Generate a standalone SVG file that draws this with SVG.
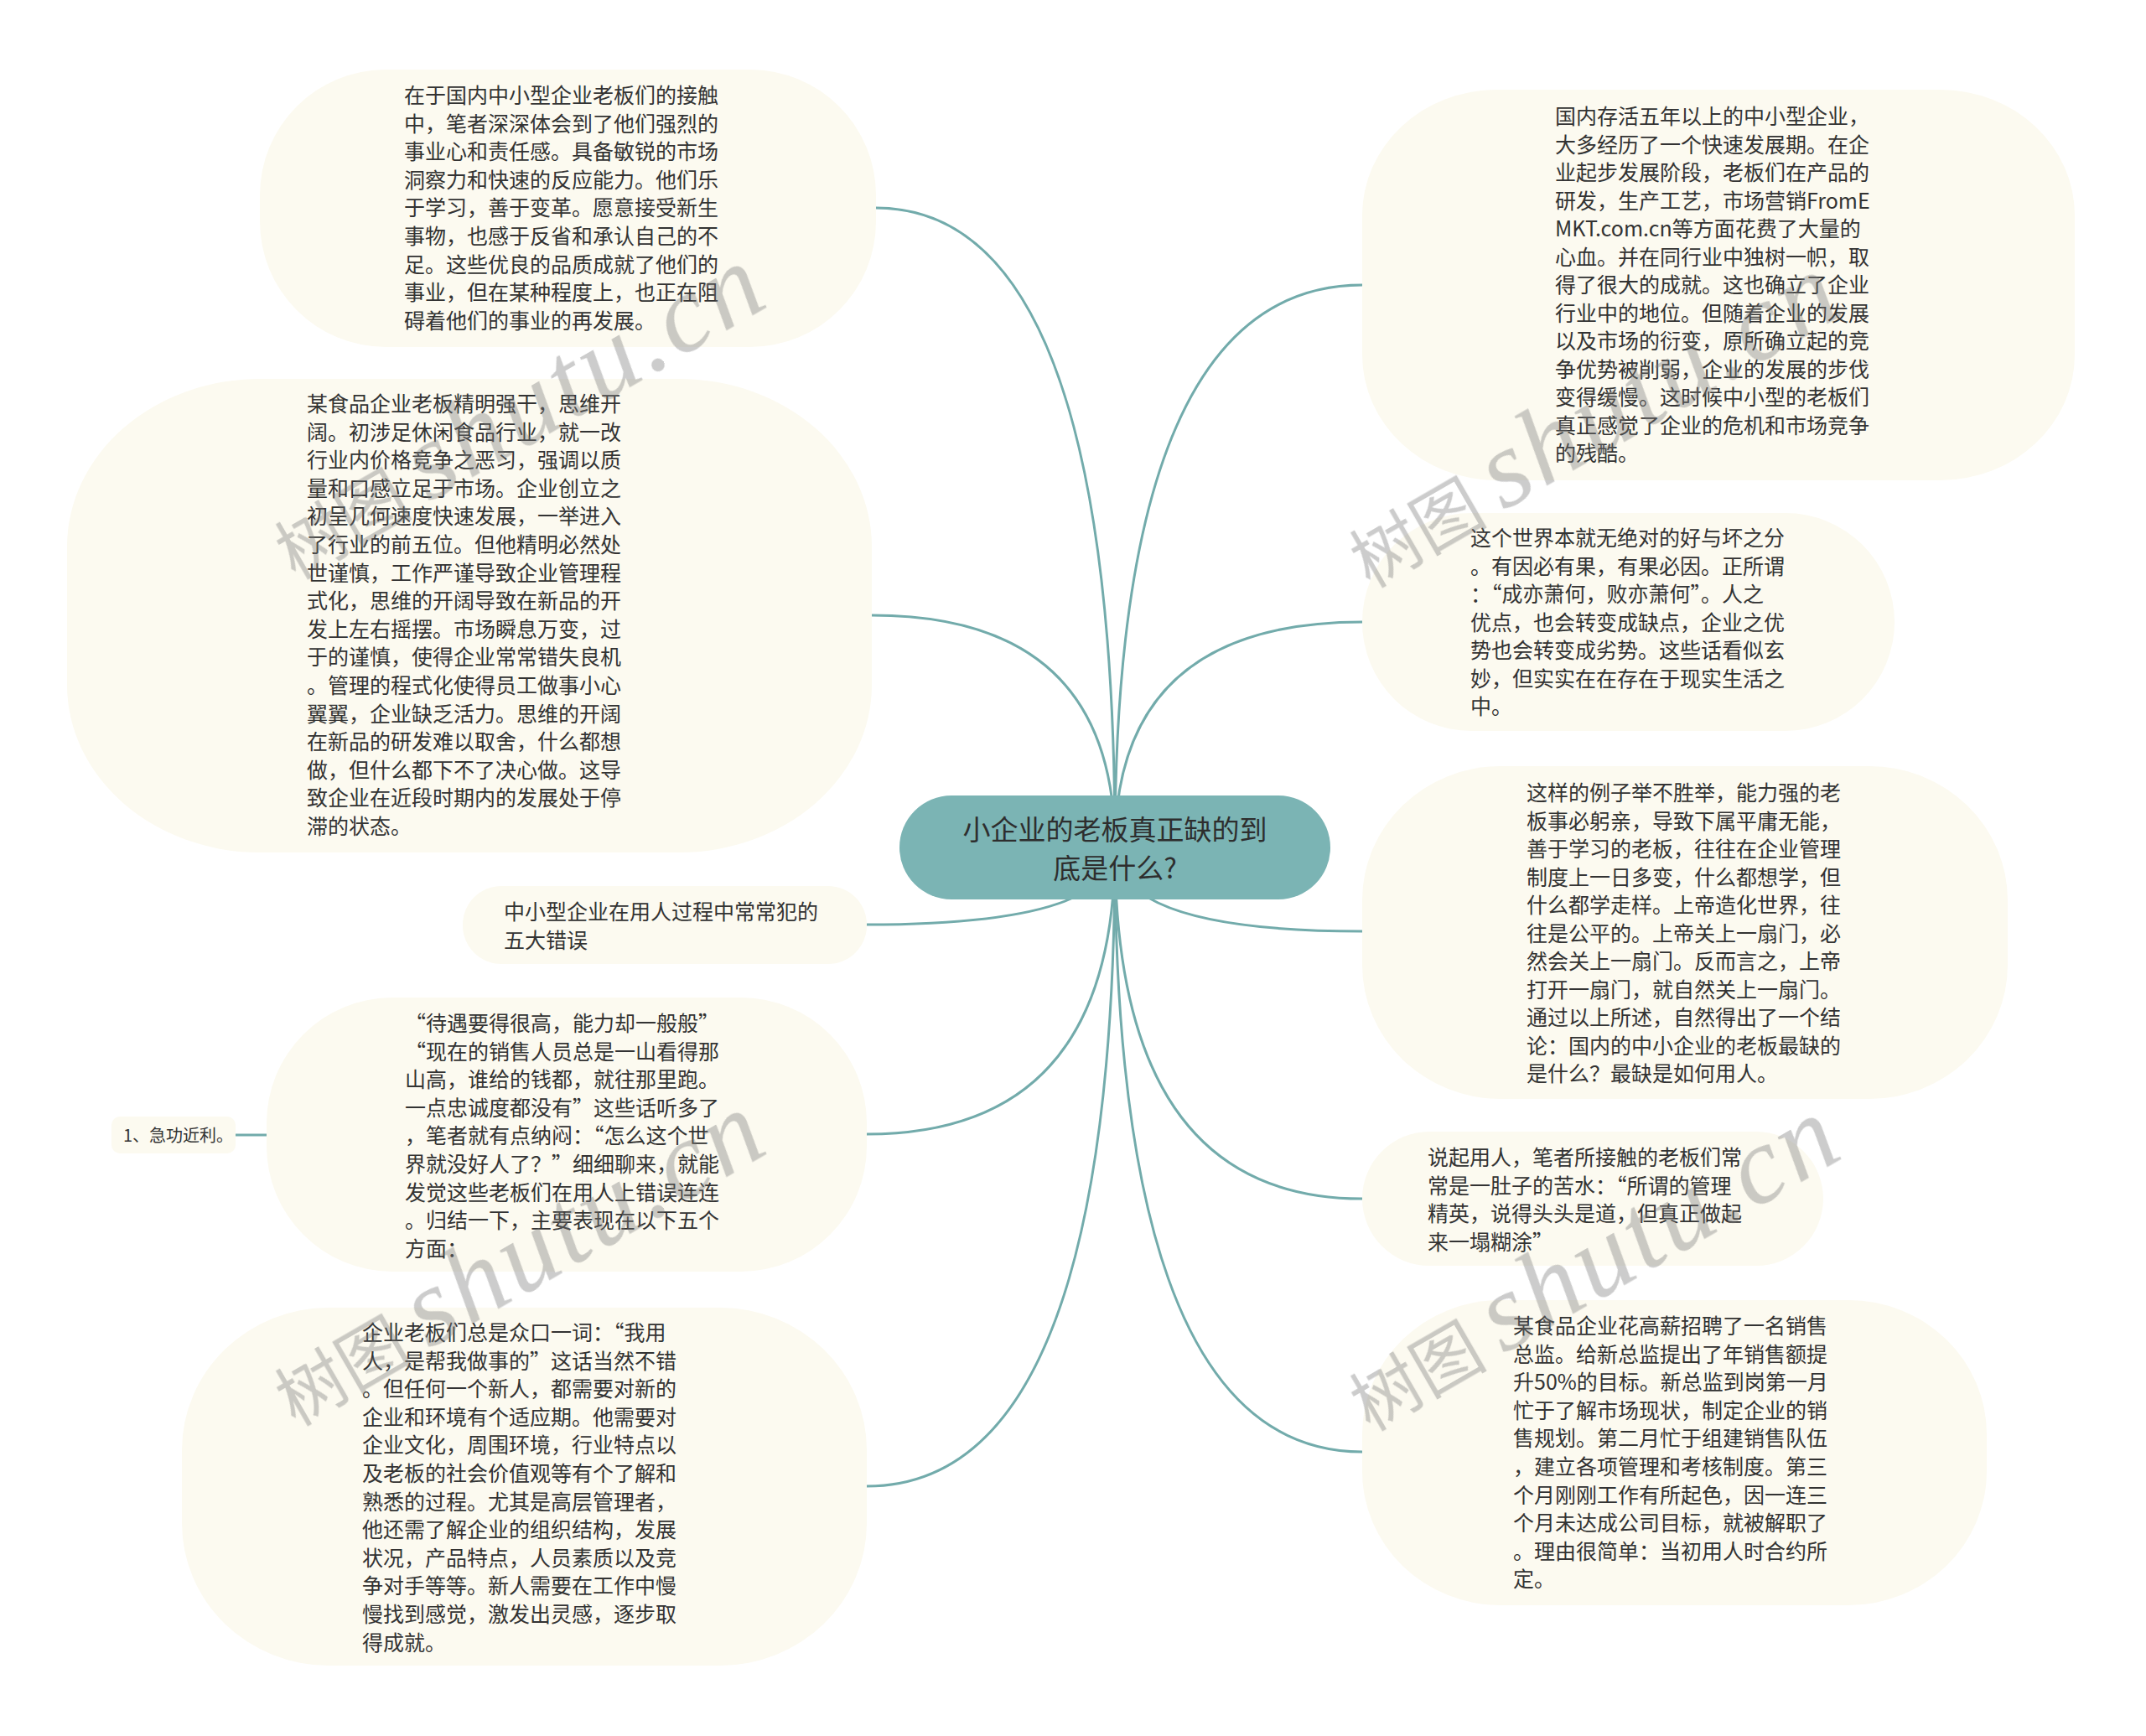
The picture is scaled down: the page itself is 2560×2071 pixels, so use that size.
<svg xmlns="http://www.w3.org/2000/svg" width="2560" height="2071" viewBox="0 0 2560 2071">
<style>
.t{font-family:"Noto Sans CJK SC","Noto Sans",sans-serif;font-size:25px;fill:#333}
.s{font-family:"Noto Sans CJK SC","Noto Sans",sans-serif;font-size:20px;fill:#333}
.r{font-family:"Noto Sans CJK SC","Noto Sans",sans-serif;font-size:33px;fill:#2e2e2e}
.bub{fill:#fcfaf0}
.ln{fill:none;stroke:#72abab;stroke-width:3}
.wm{fill:#777;opacity:0.38}
.wc{font-family:"Noto Sans CJK SC",sans-serif;font-size:82px}
.wl{font-family:"Liberation Serif",serif;font-style:italic;font-size:132px;letter-spacing:4px}
</style>
<rect width="2560" height="2071" fill="#ffffff"/>
<g id="connectors">
<path class="ln" d="M1330 1011 Q1330 248 1045 248"/>
<path class="ln" d="M1330 1011 Q1330 734 1040 734"/>
<path class="ln" d="M1330 1011 Q1330 1103 1034 1103"/>
<path class="ln" d="M1330 1011 Q1330 1353 1034 1353"/>
<path class="ln" d="M1330 1011 Q1330 1773 1034 1773"/>
<path class="ln" d="M1330 1011 Q1330 340 1625 340"/>
<path class="ln" d="M1330 1011 Q1330 742 1625 742"/>
<path class="ln" d="M1330 1011 Q1330 1111 1625 1111"/>
<path class="ln" d="M1330 1011 Q1330 1430 1625 1430"/>
<path class="ln" d="M1330 1011 Q1330 1732 1625 1732"/>
<path class="ln" d="M281 1354 L318 1354"/>
</g>
<g id="root">
<rect x="1073" y="949" width="514" height="124" rx="62" fill="#7bb4b4"/>
<text class="r" text-anchor="middle"><tspan x="1330" y="1002">小企业的老板真正缺的到</tspan><tspan x="1330" y="1048">底是什么?</tspan></text>
</g>
<g id="nodeA">
<rect class="bub" x="310" y="83" width="735" height="331" rx="150" ry="150"/>
<text class="t"><tspan x="482" y="123">在于国内中小型企业老板们的接触</tspan><tspan x="482" dy="33.6">中，笔者深深体会到了他们强烈的</tspan><tspan x="482" dy="33.6">事业心和责任感。具备敏锐的市场</tspan><tspan x="482" dy="33.6">洞察力和快速的反应能力。他们乐</tspan><tspan x="482" dy="33.6">于学习，善于变革。愿意接受新生</tspan><tspan x="482" dy="33.6">事物，也感于反省和承认自己的不</tspan><tspan x="482" dy="33.6">足。这些优良的品质成就了他们的</tspan><tspan x="482" dy="33.6">事业，但在某种程度上，也正在阻</tspan><tspan x="482" dy="33.6">碍着他们的事业的再发展。</tspan></text>
</g>
<g id="nodeB">
<rect class="bub" x="80" y="452" width="960" height="565" rx="230" ry="200"/>
<text class="t"><tspan x="366" y="491">某食品企业老板精明强干，思维开</tspan><tspan x="366" dy="33.6">阔。初涉足休闲食品行业，就一改</tspan><tspan x="366" dy="33.6">行业内价格竞争之恶习，强调以质</tspan><tspan x="366" dy="33.6">量和口感立足于市场。企业创立之</tspan><tspan x="366" dy="33.6">初呈几何速度快速发展，一举进入</tspan><tspan x="366" dy="33.6">了行业的前五位。但他精明必然处</tspan><tspan x="366" dy="33.6">世谨慎，工作严谨导致企业管理程</tspan><tspan x="366" dy="33.6">式化，思维的开阔导致在新品的开</tspan><tspan x="366" dy="33.6">发上左右摇摆。市场瞬息万变，过</tspan><tspan x="366" dy="33.6">于的谨慎，使得企业常常错失良机</tspan><tspan x="366" dy="33.6">。管理的程式化使得员工做事小心</tspan><tspan x="366" dy="33.6">翼翼，企业缺乏活力。思维的开阔</tspan><tspan x="366" dy="33.6">在新品的研发难以取舍，什么都想</tspan><tspan x="366" dy="33.6">做，但什么都下不了决心做。这导</tspan><tspan x="366" dy="33.6">致企业在近段时期内的发展处于停</tspan><tspan x="366" dy="33.6">滞的状态。</tspan></text>
</g>
<g id="nodeC">
<rect class="bub" x="552" y="1057" width="482" height="93" rx="46"/>
<text class="t"><tspan x="601" y="1097">中小型企业在用人过程中常常犯的</tspan><tspan x="601" dy="33.6">五大错误</tspan></text>
</g>
<g id="nodeD">
<rect class="bub" x="133" y="1332" width="148" height="44" rx="10"/>
<text class="s" x="147" y="1362">1、急功近利。</text>
</g>
<g id="nodeE">
<rect class="bub" x="318" y="1190" width="716" height="327" rx="150" ry="150"/>
<text class="t"><tspan x="483" y="1230">“待遇要得很高，能力却一般般”</tspan><tspan x="483" dy="33.6">“现在的销售人员总是一山看得那</tspan><tspan x="483" dy="33.6">山高，谁给的钱都，就往那里跑。</tspan><tspan x="483" dy="33.6">一点忠诚度都没有”这些话听多了</tspan><tspan x="483" dy="33.6">，笔者就有点纳闷：“怎么这个世</tspan><tspan x="483" dy="33.6">界就没好人了？”细细聊来，就能</tspan><tspan x="483" dy="33.6">发觉这些老板们在用人上错误连连</tspan><tspan x="483" dy="33.6">。归结一下，主要表现在以下五个</tspan><tspan x="483" dy="33.6">方面：</tspan></text>
</g>
<g id="nodeF">
<rect class="bub" x="217" y="1560" width="817" height="427" rx="175" ry="170"/>
<text class="t"><tspan x="432" y="1599">企业老板们总是众口一词：“我用</tspan><tspan x="432" dy="33.6">人，是帮我做事的”这话当然不错</tspan><tspan x="432" dy="33.6">。但任何一个新人，都需要对新的</tspan><tspan x="432" dy="33.6">企业和环境有个适应期。他需要对</tspan><tspan x="432" dy="33.6">企业文化，周围环境，行业特点以</tspan><tspan x="432" dy="33.6">及老板的社会价值观等有个了解和</tspan><tspan x="432" dy="33.6">熟悉的过程。尤其是高层管理者，</tspan><tspan x="432" dy="33.6">他还需了解企业的组织结构，发展</tspan><tspan x="432" dy="33.6">状况，产品特点，人员素质以及竞</tspan><tspan x="432" dy="33.6">争对手等等。新人需要在工作中慢</tspan><tspan x="432" dy="33.6">慢找到感觉，激发出灵感，逐步取</tspan><tspan x="432" dy="33.6">得成就。</tspan></text>
</g>
<g id="nodeG">
<rect class="bub" x="1625" y="107" width="850" height="466" rx="160" ry="150"/>
<text class="t"><tspan x="1855" y="148">国内存活五年以上的中小型企业，</tspan><tspan x="1855" dy="33.5">大多经历了一个快速发展期。在企</tspan><tspan x="1855" dy="33.5">业起步发展阶段，老板们在产品的</tspan><tspan x="1855" dy="33.5">研发，生产工艺，市场营销FromE</tspan><tspan x="1855" dy="33.5">MKT.com.cn等方面花费了大量的</tspan><tspan x="1855" dy="33.5">心血。并在同行业中独树一帜，取</tspan><tspan x="1855" dy="33.5">得了很大的成就。这也确立了企业</tspan><tspan x="1855" dy="33.5">行业中的地位。但随着企业的发展</tspan><tspan x="1855" dy="33.5">以及市场的衍变，原所确立起的竞</tspan><tspan x="1855" dy="33.5">争优势被削弱，企业的发展的步伐</tspan><tspan x="1855" dy="33.5">变得缓慢。这时候中小型的老板们</tspan><tspan x="1855" dy="33.5">真正感觉了企业的危机和市场竞争</tspan><tspan x="1855" dy="33.5">的残酷。</tspan></text>
</g>
<g id="nodeH">
<rect class="bub" x="1625" y="612" width="635" height="260" rx="130"/>
<text class="t"><tspan x="1754" y="651">这个世界本就无绝对的好与坏之分</tspan><tspan x="1754" dy="33.5">。有因必有果，有果必因。正所谓</tspan><tspan x="1754" dy="33.5">：“成亦萧何，败亦萧何”。人之</tspan><tspan x="1754" dy="33.5">优点，也会转变成缺点，企业之优</tspan><tspan x="1754" dy="33.5">势也会转变成劣势。这些话看似玄</tspan><tspan x="1754" dy="33.5">妙，但实实在在存在于现实生活之</tspan><tspan x="1754" dy="33.5">中。</tspan></text>
</g>
<g id="nodeI">
<rect class="bub" x="1625" y="914" width="770" height="397" rx="165" ry="160"/>
<text class="t"><tspan x="1821" y="955">这样的例子举不胜举，能力强的老</tspan><tspan x="1821" dy="33.5">板事必躬亲，导致下属平庸无能，</tspan><tspan x="1821" dy="33.5">善于学习的老板，往往在企业管理</tspan><tspan x="1821" dy="33.5">制度上一日多变，什么都想学，但</tspan><tspan x="1821" dy="33.5">什么都学走样。上帝造化世界，往</tspan><tspan x="1821" dy="33.5">往是公平的。上帝关上一扇门，必</tspan><tspan x="1821" dy="33.5">然会关上一扇门。反而言之，上帝</tspan><tspan x="1821" dy="33.5">打开一扇门，就自然关上一扇门。</tspan><tspan x="1821" dy="33.5">通过以上所述，自然得出了一个结</tspan><tspan x="1821" dy="33.5">论：国内的中小企业的老板最缺的</tspan><tspan x="1821" dy="33.5">是什么？最缺是如何用人。</tspan></text>
</g>
<g id="nodeJ">
<rect class="bub" x="1625" y="1350" width="550" height="160" rx="80"/>
<text class="t"><tspan x="1703" y="1390">说起用人，笔者所接触的老板们常</tspan><tspan x="1703" dy="33.5">常是一肚子的苦水：“所谓的管理</tspan><tspan x="1703" dy="33.5">精英，说得头头是道，但真正做起</tspan><tspan x="1703" dy="33.5">来一塌糊涂”</tspan></text>
</g>
<g id="nodeK">
<rect class="bub" x="1625" y="1551" width="745" height="364" rx="165" ry="160"/>
<text class="t"><tspan x="1805" y="1591">某食品企业花高薪招聘了一名销售</tspan><tspan x="1805" dy="33.6">总监。给新总监提出了年销售额提</tspan><tspan x="1805" dy="33.6">升50%的目标。新总监到岗第一月</tspan><tspan x="1805" dy="33.6">忙于了解市场现状，制定企业的销</tspan><tspan x="1805" dy="33.6">售规划。第二月忙于组建销售队伍</tspan><tspan x="1805" dy="33.6">，建立各项管理和考核制度。第三</tspan><tspan x="1805" dy="33.6">个月刚刚工作有所起色，因一连三</tspan><tspan x="1805" dy="33.6">个月未达成公司目标，就被解职了</tspan><tspan x="1805" dy="33.6">。理由很简单：当初用人时合约所</tspan><tspan x="1805" dy="33.6">定。</tspan></text>
</g>
<g id="watermarks" class="wm">
<text transform="translate(352 692) rotate(-30)"><tspan class="wc">树图</tspan><tspan class="wl" dx="20">shutu.cn</tspan></text>
<text transform="translate(1634 702) rotate(-30)"><tspan class="wc">树图</tspan><tspan class="wl" dx="20">shutu.cn</tspan></text>
<text transform="translate(352 1702) rotate(-30)"><tspan class="wc">树图</tspan><tspan class="wl" dx="20">shutu.cn</tspan></text>
<text transform="translate(1634 1708) rotate(-30)"><tspan class="wc">树图</tspan><tspan class="wl" dx="20">shutu.cn</tspan></text>
</g>
</svg>
